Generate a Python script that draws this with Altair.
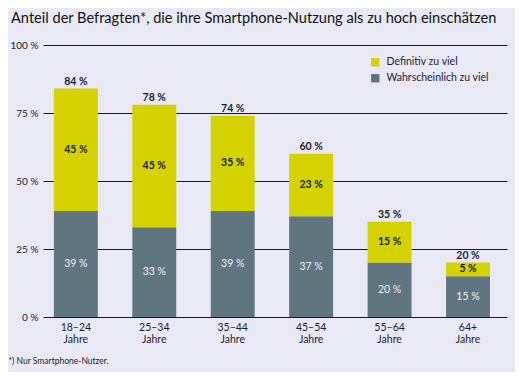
import altair as alt
import pandas as pd

categories = ["18–24 Jahre", "25–34 Jahre", "35–44 Jahre", "45–54 Jahre", "55–64 Jahre", "64+ Jahre"]
wahrscheinlich = [39, 33, 39, 37, 20, 15]
definitiv = [45, 45, 35, 23, 15, 5]
totals = [84, 78, 74, 60, 35, 20]
series_names = ["Definitiv zu viel", "Wahrscheinlich zu viel"]
series_colors = ["#d4d200", "#5f7680"]
y_ticks = [0, 25, 50, 75, 100]

rows = []
for c, w, d in zip(categories, wahrscheinlich, definitiv):
    rows.append({"cat": c, "series": "Wahrscheinlich zu viel", "v": w, "y0": 0, "y1": w, "mid": w / 2})
    rows.append({"cat": c, "series": "Definitiv zu viel", "v": d, "y0": w, "y1": w + d, "mid": w + d / 2})
df = pd.DataFrame(rows)
df["label"] = df["v"].astype(str) + " %"
tot = pd.DataFrame({"cat": categories, "total": totals})
tot["label"] = tot["total"].astype(str) + " %"

FONT = "Lato"
DARK = "#1b1d33"

x_enc = alt.X(
    "cat:N",
    sort=categories,
    scale=alt.Scale(paddingInner=0.44, paddingOuter=0.178, align=0.39),
    axis=alt.Axis(
        labelExpr="split(datum.value, ' ')",
        labelAngle=0,
        labelFontSize=10.5,
        labelColor=DARK,
        labelFont=FONT,
        labelPadding=5,
        labelLineHeight=12,
        domain=False,
        ticks=False,
        title="*) Nur Smartphone-Nutzer.",
        titleFont=FONT,
        titleFontSize=8.5,
        titleFontWeight="normal",
        titleColor=DARK,
        titleX=-35,
        titleY=43,
        titleAlign="left",
        titleBaseline="middle",
        titleAngle=0,
    ),
)
y_scale = alt.Scale(domain=[0, 100], nice=False)

bars = alt.Chart(df).mark_bar().encode(
    x=x_enc,
    y=alt.Y(
        "y1:Q",
        scale=y_scale,
        axis=alt.Axis(
            values=y_ticks,
            labelExpr="datum.value + ' %'",
            labelFontSize=10,
            labelColor=DARK,
            labelFont=FONT,
            labelPadding=5,
            domain=False,
            ticks=False,
            grid=True,
            gridColor="#1a1a1a",
            gridWidth=1,
            title=None,
        ),
    ),
    y2="y0:Q",
    color=alt.Color(
        "series:N",
        scale=alt.Scale(domain=series_names, range=series_colors),
        legend=alt.Legend(
            title=None,
            orient="none",
            legendX=327,
            legendY=12,
            symbolType="square",
            symbolSize=70,
            symbolStrokeWidth=0,
            labelFont=FONT,
            labelFontSize=10.5,
            labelColor=DARK,
            rowPadding=5,
            labelOffset=6,
        ),
    ),
)

yellow_labels = alt.Chart(df).transform_filter(
    alt.datum.series == "Definitiv zu viel"
).mark_text(font=FONT, fontSize=10.5, fontWeight="bold", color=DARK).encode(
    x=alt.X("cat:N", sort=categories),
    y=alt.Y("mid:Q", scale=y_scale),
    text="label:N",
)

gray_labels = alt.Chart(df).transform_filter(
    alt.datum.series == "Wahrscheinlich zu viel"
).mark_text(font=FONT, fontSize=10.5, fontWeight="normal", color="#eef0f4").encode(
    x=alt.X("cat:N", sort=categories),
    y=alt.Y("mid:Q", scale=y_scale),
    text="label:N",
)

tot_labels = alt.Chart(tot).mark_text(
    font=FONT, fontSize=10.5, fontWeight="bold", color=DARK, baseline="bottom", dy=-2
).encode(
    x=alt.X("cat:N", sort=categories),
    y=alt.Y("total:Q", scale=y_scale),
    text="label:N",
)

chart = (
    alt.layer(bars, yellow_labels, gray_labels, tot_labels)
    .properties(
        width=464,
        height=272,
        padding={"left": 35, "top": 37, "right": 8, "bottom": 55},
        autosize=alt.AutoSizeParams(type="none"),
        background="#e8e9f4",
        title=alt.TitleParams(
            "Anteil der Befragten*, die ihre Smartphone-Nutzung als zu hoch einschätzen",
            anchor="start",
            frame="group",
            dx=-32,
            font=FONT,
            fontSize=14.6,
            fontWeight="normal",
            color="#111111",
            offset=14,
        ),
    )
    .configure_view(stroke=None)
)

chart.save("out.html", embed_options={"renderer": "svg", "actions": False})
